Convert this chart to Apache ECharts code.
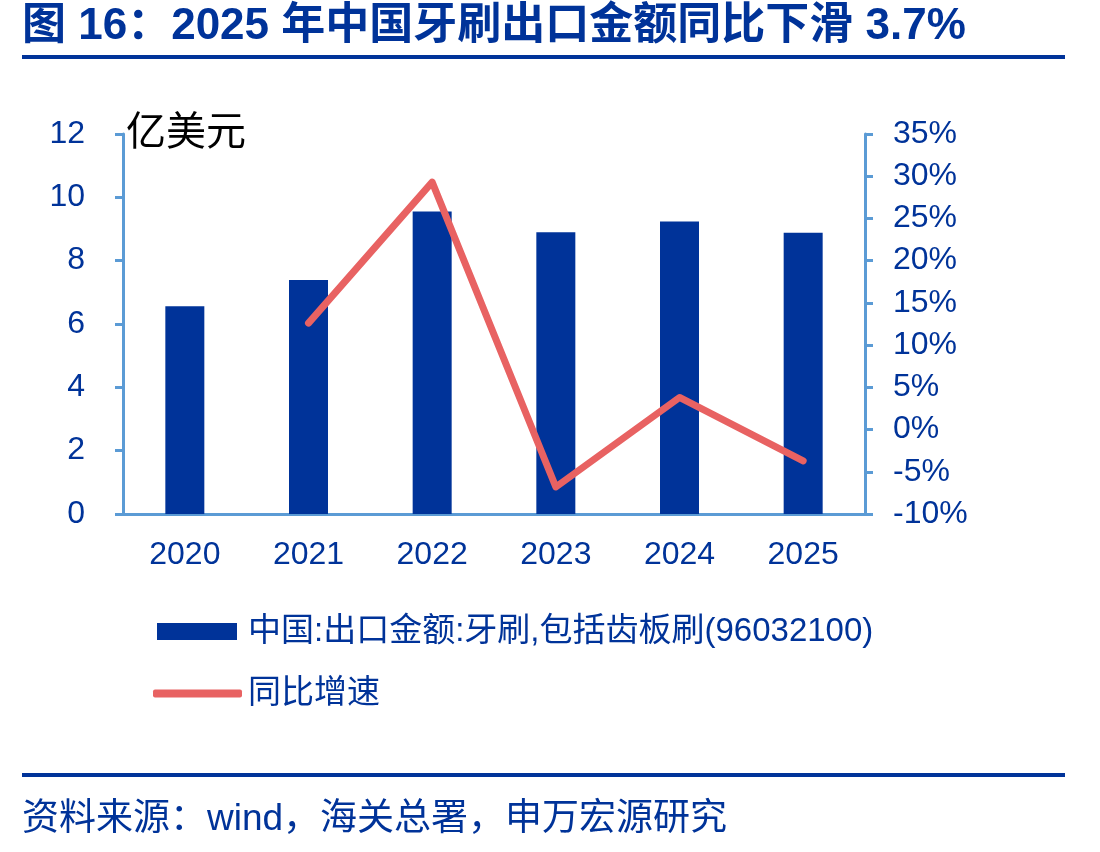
<!DOCTYPE html>
<html>
<head>
<meta charset="utf-8">
<script src="https://cdn.jsdelivr.net/npm/echarts@6/dist/echarts.min.js"></script>
<style>
  html, body { margin: 0; padding: 0; background: #fff; }
  #main { width: 1100px; height: 852px; }
</style>
</head>
<body>
<div id="main"></div>
<script>
// 数据
const years = ['2020', '2021', '2022', '2023', '2024', '2025'];
const exportValue = [6.56, 7.39, 9.55, 8.90, 9.24, 8.88]; // 亿美元
const yoyGrowth = [null, 12.6, 29.3, -6.8, 3.8, -3.7]; // %
const barName = '中国:出口金额:牙刷,包括齿板刷(96032100)';
const lineName = '同比增速';

const blue = '#003399';
const axisBlue = '#5b9bd5';
const red = '#e86262';
const fontFamily = '"Liberation Sans", Arial, "Noto Sans CJK SC", sans-serif';

const chart = echarts.init(document.getElementById('main'));

const option = {
  animation: false,
  textStyle: { fontFamily: fontFamily },
  grid: { left: 123, right: 235, top: 134, bottom: 338 },
  legend: [
    {
      data: [{ name: barName, icon: 'rect' }],
      left: 157, top: 615, padding: 0,
      itemWidth: 80, itemHeight: 17,
      textStyle: { fontSize: 33, color: blue, padding: [0, 0, 0, 6] }
    },
    {
      data: [{ name: lineName, icon: 'roundRect' }],
      left: 153, top: 677, padding: 0,
      itemWidth: 89, itemHeight: 8,
      textStyle: { fontSize: 33, color: blue, padding: [0, 0, 0, 1] }
    }
  ],
  xAxis: {
    type: 'category',
    data: years,
    axisLine: { lineStyle: { color: axisBlue, width: 3 } },
    axisTick: { alignWithLabel: false, length: 8, lineStyle: { color: axisBlue, width: 3 } },
    axisLabel: { fontSize: 32, color: blue, margin: 25 }
  },
  yAxis: [
    {
      type: 'value', min: 0, max: 12, interval: 2,
      axisLine: { show: true, lineStyle: { color: axisBlue, width: 3 } },
      axisTick: { show: true, length: 8, lineStyle: { color: axisBlue, width: 3 } },
      axisLabel: { fontSize: 32, color: blue, margin: 38 },
      splitLine: { show: false }
    },
    {
      type: 'value', min: -10, max: 35, interval: 5, position: 'right',
      axisLine: { show: true, lineStyle: { color: axisBlue, width: 3 } },
      axisTick: { show: true, length: 8, lineStyle: { color: axisBlue, width: 3 } },
      axisLabel: { fontSize: 32, color: blue, margin: 28, formatter: '{value}%' },
      splitLine: { show: false }
    }
  ],
  series: [
    {
      name: barName,
      type: 'bar',
      data: exportValue,
      barWidth: 39,
      itemStyle: { color: blue }
    },
    {
      name: lineName,
      type: 'line',
      yAxisIndex: 1,
      data: yoyGrowth,
      symbol: 'none',
      lineStyle: { color: red, width: 7, cap: 'round', join: 'round' },
      itemStyle: { color: red }
    }
  ],
  graphic: [
    {
      type: 'text', left: 22, top: 5,
      style: {
        text: '图 16：2025 年中国牙刷出口金额同比下滑 3.7%',
        font: 'bold 44px ' + fontFamily, fill: blue
      }
    },
    {
      type: 'rect', shape: { x: 22, y: 55, width: 1043, height: 4 },
      style: { fill: blue }
    },
    {
      type: 'text', left: 126, top: 114,
      style: { text: '亿美元', font: '40px ' + fontFamily, fill: '#000' }
    },
    {
      type: 'rect', shape: { x: 22, y: 773, width: 1043, height: 4 },
      style: { fill: blue }
    },
    {
      type: 'text', left: 22, top: 801,
      style: {
        text: '资料来源：wind，海关总署，申万宏源研究',
        font: '37px ' + fontFamily, fill: blue
      }
    }
  ]
};

chart.setOption(option);
</script>
</body>
</html>
